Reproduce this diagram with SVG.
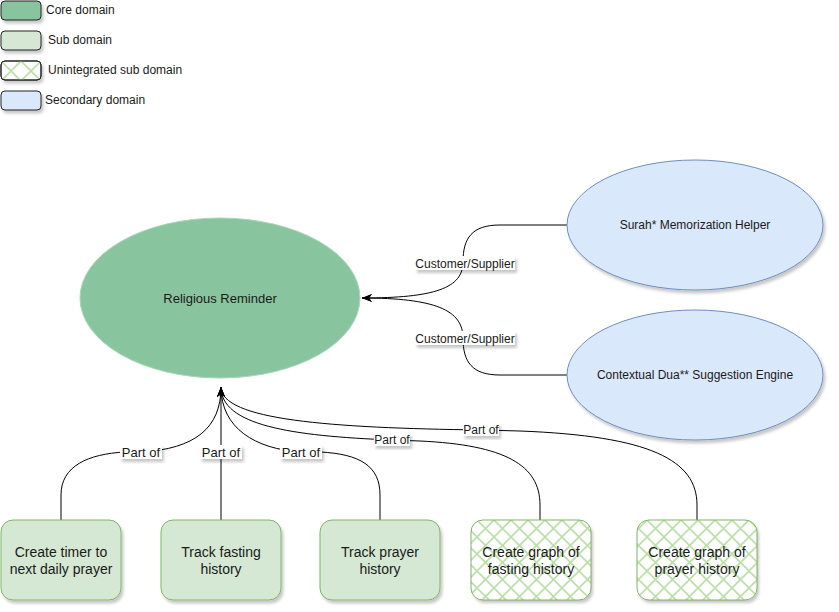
<svg xmlns="http://www.w3.org/2000/svg" width="839" height="612" viewBox="0 0 839 612">
<defs>
<filter id="sh" x="-10%" y="-10%" width="130%" height="140%">
<feDropShadow dx="2" dy="3" stdDeviation="1.5" flood-color="#000" flood-opacity="0.22"/>
</filter>
<pattern id="hatch" patternUnits="userSpaceOnUse" width="17" height="17" x="1" y="520">
<path d="M0,0 L17,17 M17,0 L0,17" stroke="#b9e0a5" stroke-width="1.6" fill="none"/>
</pattern>
<pattern id="hatchL" patternUnits="userSpaceOnUse" width="20" height="20" x="1" y="61">
<path d="M0,0 L20,20 M20,0 L0,20" stroke="#b9e0a5" stroke-width="1.6" fill="none"/>
</pattern>
<marker id="arr" viewBox="0 0 10 8" refX="10" refY="4" markerWidth="10" markerHeight="8" markerUnits="userSpaceOnUse" orient="auto">
<path d="M0,0 L10,4 L0,8 L3,4 Z" fill="#000"/>
</marker>
</defs>
<style>
text{font-family:"Liberation Sans",Arial,sans-serif;fill:#1a1a1a}
.leg{stroke:#222;stroke-width:1}
.t12{font-size:12px}
.t13{font-size:13px}
.t14{font-size:14px}
.sub{fill:#d5e8d4;stroke:#82b366;stroke-width:1}
.unint{fill:url(#hatch);stroke:#82b366;stroke-width:1}
.sec{fill:#dae8fc;stroke:#6c8ebf;stroke-width:1}
.core{fill:#88c59f;stroke:#a9d6b9;stroke-width:1}
.edge{fill:none;stroke:#000;stroke-width:1}
.lbl{fill:#fff}
</style>

<g id="legend">
<g id="legend-core"><rect class="leg" x="1" y="1" width="40" height="19" rx="4" fill="#88c59f" filter="url(#sh)"/><text class="t12" x="46" y="14">Core domain</text></g>
<g id="legend-sub"><rect class="leg" x="1" y="31" width="40" height="19" rx="4" fill="#d5e8d4" filter="url(#sh)"/><text class="t12" x="48" y="44">Sub domain</text></g>
<g id="legend-unint"><rect class="leg" x="1" y="61" width="40" height="19" rx="4" fill="#fff" filter="url(#sh)"/><rect x="1" y="61" width="40" height="19" rx="4" fill="url(#hatchL)" stroke="#222"/><text class="t12" x="48" y="74">Unintegrated sub domain</text></g>
<g id="legend-sec"><rect class="leg" x="1" y="91" width="40" height="19" rx="4" fill="#dae8fc" filter="url(#sh)"/><text class="t12" x="45" y="104">Secondary domain</text></g>
</g>

<g id="connectors">
<path class="edge" d="M567,225 L500,225 C472,225 463,238 463,262 C463,288 435,298 362,298" marker-end="url(#arr)"/>
<path class="edge" d="M567,375 L500,375 C472,375 463,362 463,338 C463,310 435,298 362,298" marker-end="url(#arr)"/>
<path class="edge" d="M61,520 L61,495 C61,466 88,454 125,452 L141,452 C195,449 221,428 221,387" marker-end="url(#arr)"/>
<path class="edge" d="M221,520 L221,387" marker-end="url(#arr)"/>
<path class="edge" d="M380,520 L380,495 C380,466 360,454 320,452 L301,452 C255,449 221,428 221,387" marker-end="url(#arr)"/>
<path class="edge" d="M540,520 L540,505 C540,465 505,445 420,441 L392,440 C290,436 221,425 221,387" marker-end="url(#arr)"/>
<path class="edge" d="M697,520 L697,505 C697,460 650,436 520,431 L481,430 C330,428 221,420 221,387" marker-end="url(#arr)"/>
<g id="edge-labels">
<rect class="lbl" x="415" y="256" width="100" height="14" filter="url(#sh)"/>
<text class="t12" x="465" y="267.5" text-anchor="middle">Customer/Supplier</text>
<rect class="lbl" x="415" y="331" width="100" height="14" filter="url(#sh)"/>
<text class="t12" x="465" y="342.5" text-anchor="middle">Customer/Supplier</text>
<rect class="lbl" x="120" y="445" width="42" height="14" filter="url(#sh)"/>
<text class="t13" x="141" y="457" text-anchor="middle">Part of</text>
<rect class="lbl" x="200" y="445" width="42" height="14" filter="url(#sh)"/>
<text class="t13" x="221" y="457" text-anchor="middle">Part of</text>
<rect class="lbl" x="280" y="445" width="42" height="14" filter="url(#sh)"/>
<text class="t13" x="301" y="457" text-anchor="middle">Part of</text>
<rect class="lbl" x="374" y="433" width="36" height="13" filter="url(#sh)"/>
<text class="t12" x="392" y="444" text-anchor="middle">Part of</text>
<rect class="lbl" x="463" y="423" width="36" height="13" filter="url(#sh)"/>
<text class="t12" x="481" y="434" text-anchor="middle">Part of</text>
</g>
</g>

<g id="religious-reminder">
<ellipse class="core" cx="220" cy="298" rx="140" ry="80"/>
<text class="t13" x="220" y="303" text-anchor="middle">Religious Reminder</text>
</g>
<g id="surah-helper">
<ellipse class="sec" cx="695" cy="225" rx="128" ry="65" filter="url(#sh)"/>
<text class="t12" x="695" y="229" text-anchor="middle">Surah* Memorization Helper</text>
</g>
<g id="dua-engine">
<ellipse class="sec" cx="695" cy="375" rx="128" ry="65" filter="url(#sh)"/>
<text class="t12" x="695" y="379" text-anchor="middle">Contextual Dua** Suggestion Engine</text>
</g>

<g id="timer">
<rect class="sub" x="1" y="520" width="120" height="80" rx="12" filter="url(#sh)"/>
<text class="t14" x="61" y="557" text-anchor="middle">Create timer to</text>
<text class="t14" x="61" y="574" text-anchor="middle">next daily prayer</text>
</g>
<g id="track-fasting">
<rect class="sub" x="161" y="520" width="120" height="80" rx="12" filter="url(#sh)"/>
<text class="t14" x="221" y="557" text-anchor="middle">Track fasting</text>
<text class="t14" x="221" y="574" text-anchor="middle">history</text>
</g>
<g id="track-prayer">
<rect class="sub" x="320" y="520" width="120" height="80" rx="12" filter="url(#sh)"/>
<text class="t14" x="380" y="557" text-anchor="middle">Track prayer</text>
<text class="t14" x="380" y="574" text-anchor="middle">history</text>
</g>
<g id="graph-fasting">
<rect x="471" y="520" width="120" height="80" rx="12" fill="#fff" filter="url(#sh)"/>
<rect class="unint" x="471" y="520" width="120" height="80" rx="12"/>
<text class="t14" x="531" y="557" text-anchor="middle">Create graph of</text>
<text class="t14" x="531" y="574" text-anchor="middle">fasting history</text>
</g>
<g id="graph-prayer">
<rect x="637" y="520" width="120" height="80" rx="12" fill="#fff" filter="url(#sh)"/>
<rect class="unint" x="637" y="520" width="120" height="80" rx="12"/>
<text class="t14" x="697" y="557" text-anchor="middle">Create graph of</text>
<text class="t14" x="697" y="574" text-anchor="middle">prayer history</text>
</g>
</svg>
